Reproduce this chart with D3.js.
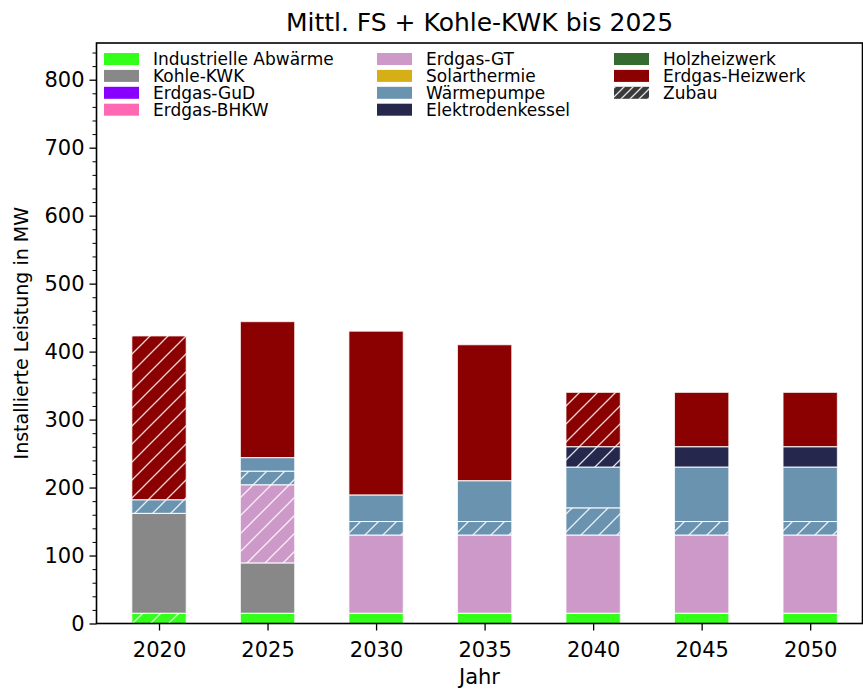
<!DOCTYPE html>
<html>
<head>
<meta charset="utf-8">
<script src="https://cdn.jsdelivr.net/npm/d3@7"></script>
<style>
  body { margin: 0; background: #fff; }
  text { font-family: "DejaVu Sans", sans-serif; fill: #000; }
</style>
</head>
<body>
<svg id="chart" width="863" height="690"></svg>
<script>
// Installed heat capacity per year, split into existing stock and new additions (Zubau)
const years = [2020, 2025, 2030, 2035, 2040, 2045, 2050];
const technologies = [
  "Industrielle Abwärme", "Kohle-KWK", "Erdgas-GuD", "Erdgas-BHKW", "Erdgas-GT",
  "Solarthermie", "Wärmepumpe", "Elektrodenkessel", "Holzheizwerk", "Erdgas-Heizwerk"
];
const techColors = [
  "#33ff1a", "#888888", "#8800ff", "#ff69b4", "#cc99c9",
  "#d6ae16", "#6a93b0", "#25274d", "#356a30", "#8b0000"
];
// existing capacity in MW, one row per technology (same order as above)
const bestandMW = [
  [0, 15, 15, 15, 15, 15, 15],
  [147, 74, 0, 0, 0, 0, 0],
  [0, 0, 0, 0, 0, 0, 0],
  [0, 0, 0, 0, 0, 0, 0],
  [0, 0, 115, 115, 115, 115, 115],
  [0, 0, 0, 0, 0, 0, 0],
  [0, 20, 39, 60, 60, 80, 80],
  [0, 0, 0, 0, 0, 30, 30],
  [0, 0, 0, 0, 0, 0, 0],
  [0, 200, 241, 200, 0, 80, 80]
];
// newly added capacity in MW
const zubauMW = [
  [15, 0, 0, 0, 0, 0, 0],
  [0, 0, 0, 0, 0, 0, 0],
  [0, 0, 0, 0, 0, 0, 0],
  [0, 0, 0, 0, 0, 0, 0],
  [0, 115, 0, 0, 0, 0, 0],
  [0, 0, 0, 0, 0, 0, 0],
  [20, 20, 20, 20, 40, 20, 20],
  [0, 0, 0, 0, 30, 0, 0],
  [0, 0, 0, 0, 0, 0, 0],
  [241, 0, 0, 0, 80, 0, 0]
];
const yTicks = [0, 100, 200, 300, 400, 500, 600, 700, 800];
const titleText = "Mittl. FS + Kohle-KWK bis 2025";
const xLabel = "Jahr";
const yLabel = "Installierte Leistung in MW";
const zubauLabel = "Zubau";

const svg = d3.select("#chart");
const plot = { left: 96.5, right: 862.5, top: 43, bottom: 623.5 };

const x = d3.scaleLinear().domain([-0.576, 6.482]).range([plot.left, plot.right]);
const y = d3.scaleLinear().domain([0, 854]).range([plot.bottom, plot.top]);
const barW = x(0.5) - x(0);

// hatch patterns for new capacity
const defs = svg.append("defs");
function hatch(id, s, w) {
  const p = defs.append("pattern").attr("id", id)
    .attr("patternUnits", "userSpaceOnUse").attr("width", s).attr("height", s);
  p.append("path")
    .attr("d", `M0,${s} L${s},0 M${-s/4},${s/4} L${s/4},${-s/4} M${s*3/4},${s*5/4} L${s*5/4},${s*3/4}`)
    .attr("stroke", "#ffffff").attr("stroke-width", w).attr("stroke-opacity", 0.85);
}
hatch("hatchBar", 18, 1.3);
hatch("hatchLegend", 9, 1.3);

// build stacked segments: for each technology, additions first then existing stock
const segments = [];
years.forEach((yr, i) => {
  let base = 0;
  technologies.forEach((t, k) => {
    [["zubau", zubauMW[k][i]], ["bestand", bestandMW[k][i]]].forEach(([kind, v]) => {
      if (v > 0) {
        segments.push({ i, k, kind, y0: base, y1: base + v });
        base += v;
      }
    });
  });
});

const bars = svg.append("g");
bars.selectAll("rect.fill").data(segments).join("rect")
  .attr("class", "fill")
  .attr("x", d => x(d.i) - barW / 2).attr("width", barW)
  .attr("y", d => y(d.y1)).attr("height", d => y(d.y0) - y(d.y1))
  .attr("fill", d => techColors[d.k]);
bars.selectAll("rect.hatch").data(segments.filter(d => d.kind === "zubau")).join("rect")
  .attr("class", "hatch")
  .attr("x", d => x(d.i) - barW / 2).attr("width", barW)
  .attr("y", d => y(d.y1)).attr("height", d => y(d.y0) - y(d.y1))
  .attr("fill", "url(#hatchBar)");
bars.selectAll("rect.edge").data(segments).join("rect")
  .attr("class", "edge")
  .attr("x", d => x(d.i) - barW / 2).attr("width", barW)
  .attr("y", d => y(d.y1)).attr("height", d => y(d.y0) - y(d.y1))
  .attr("fill", "none").attr("stroke", "#ffffff").attr("stroke-opacity", 0.75).attr("stroke-width", 1);

// axes
const yAxis = svg.append("g").attr("transform", `translate(${plot.left},0)`)
  .call(d3.axisLeft(y).tickValues(yTicks).tickSize(7).tickPadding(5));
yAxis.select(".domain").remove();
yAxis.selectAll("line").attr("stroke", "#000").attr("stroke-width", 1.3);
yAxis.selectAll("text").style("font-size", "21px").attr("font-family", "DejaVu Sans");

const minor = d3.range(0, 851, 20).filter(v => v % 100 !== 0);
const yMinor = svg.append("g").attr("transform", `translate(${plot.left},0)`)
  .call(d3.axisLeft(y).tickValues(minor).tickSize(4).tickFormat(""));
yMinor.select(".domain").remove();
yMinor.selectAll("line").attr("stroke", "#000").attr("stroke-width", 1);

const xAxis = svg.append("g").attr("transform", `translate(0,${plot.bottom})`)
  .call(d3.axisBottom(x).tickValues(d3.range(years.length)).tickFormat(i => years[i]).tickSize(7).tickPadding(5));
xAxis.select(".domain").remove();
xAxis.selectAll("line").attr("stroke", "#000").attr("stroke-width", 1.3);
xAxis.selectAll("text").style("font-size", "21px").attr("font-family", "DejaVu Sans")
  .attr("dy", null).attr("y", 33);

// frame
svg.append("rect")
  .attr("x", plot.left).attr("y", plot.top)
  .attr("width", plot.right - plot.left).attr("height", plot.bottom - plot.top)
  .attr("fill", "none").attr("stroke", "#000").attr("stroke-width", 1.6);

// titles
svg.append("text").attr("x", (plot.left + plot.right) / 2).attr("y", 31)
  .attr("text-anchor", "middle").style("font-size", "25px").text(titleText);
svg.append("text").attr("x", (plot.left + plot.right) / 2).attr("y", 684)
  .attr("text-anchor", "middle").style("font-size", "21px").text(xLabel);
svg.append("text").attr("transform", `translate(28,${(plot.top + plot.bottom) / 2}) rotate(-90)`)
  .attr("text-anchor", "middle").style("font-size", "19px").text(yLabel);

// legend: three columns, filled column by column
const legendItems = technologies.map((t, k) => ({ label: t, fill: techColors[k] }))
  .concat([{ label: zubauLabel, fill: "#3a3a3a", hatched: true }]);
const colX = [104, 377, 614];
const rowY0 = 59, rowStep = 16.9, perCol = 4;
const leg = svg.append("g");
legendItems.forEach((d, n) => {
  const c = Math.floor(n / perCol), r = n % perCol;
  const gx = colX[c], gy = rowY0 + r * rowStep;
  leg.append("rect").attr("x", gx).attr("y", gy - 6).attr("width", 35).attr("height", 12)
    .attr("fill", d.fill);
  if (d.hatched) {
    leg.append("rect").attr("x", gx).attr("y", gy - 6).attr("width", 35).attr("height", 12)
      .attr("fill", "url(#hatchLegend)");
  }
  leg.append("text").attr("x", gx + 49).attr("y", gy + 6).style("font-size", "17px").text(d.label);
});
</script>
</body>
</html>
